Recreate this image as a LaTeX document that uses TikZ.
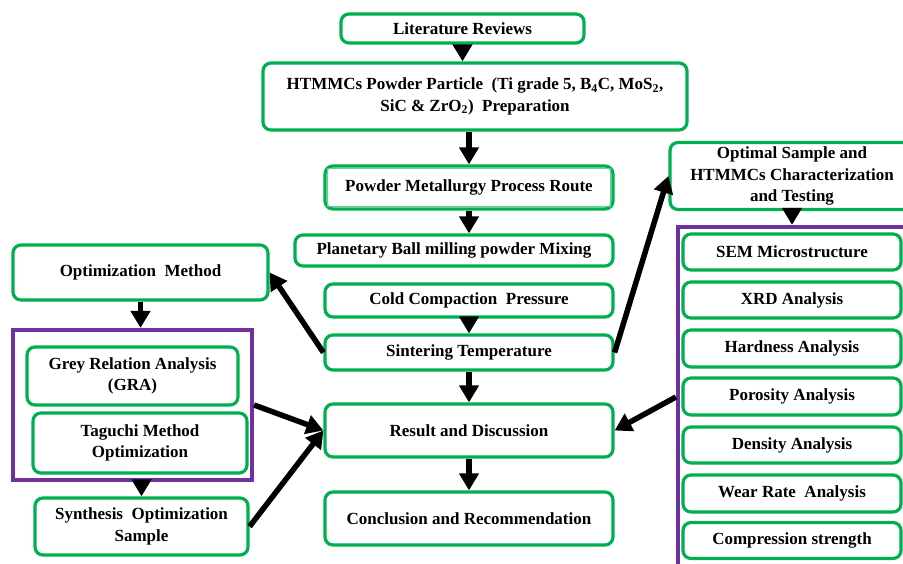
\documentclass[tikz,border=0pt]{standalone}
\usepackage{fontspec}
\setmainfont{Liberation Serif}
\usetikzlibrary{arrows.meta}
\definecolor{grn}{RGB}{0,176,80}
\definecolor{purp}{RGB}{112,48,160}
\begin{document}
\begin{tikzpicture}[x=1pt,y=-1pt,
  box/.style={draw=grn, line width=3.2pt, rounded corners=8pt, fill=white, align=center, inner sep=0pt, font=\fontsize{17}{21.5}\selectfont\bfseries},
  sz/.style n args={2}{minimum width=#1pt, minimum height=#2pt},
  pbox/.style={draw=purp, line width=4.2pt, inner sep=0pt},
  arr/.style={line width=5.5pt, -{Triangle[width=19pt,length=17pt]}}]
\useasboundingbox (0,0) rectangle (903,563);
\clip (0,0) rectangle (903,563);
\fill[white] (0,0) rectangle (903,563);

% purple group boxes
\node[pbox, sz={239}{150}] (lp) at (132.5,405) {};
\node[pbox, sz={232}{340}] (rp) at (794,397) {};

% main column
\node[box, sz={243}{29}] (lit) at (462.5,28.5) {Literature Reviews};
\node[box, sz={424}{67}] (htm) at (475,96.5) {HTMMCs Powder Particle\ \ (Ti grade 5, B\textsubscript{4}C, MoS\textsubscript{2},\\SiC \& ZrO\textsubscript{2})\ \ Preparation};
\node[box, sz={288}{43}] (pm) at (469,187.5) {Powder Metallurgy Process Route};
\draw[grn!60, line width=1pt] ([shift={(4pt,-4pt)}]pm.north west) rectangle ([shift={(-4pt,4pt)}]pm.south east);
\node[box, sz={318}{31}] (plan) at (454,250.5) {Planetary Ball milling powder Mixing};
\node[box, sz={288}{33}] (cold) at (469,300.5) {Cold Compaction\ \ Pressure};
\node[box, sz={288}{35}] (sint) at (469,352.5) {Sintering Temperature};
\node[box, sz={288}{53}] (res) at (469,430.5) {Result and Discussion};
\node[box, sz={288}{53}] (conc) at (469,518.5) {Conclusion and Recommendation};

% left column
\node[box, sz={255}{55}] (optm) at (140.5,272.5) {Optimization\ \ Method};
\node[box, sz={211}{58}] (gra) at (132.5,376) {Grey Relation Analysis\\(GRA)};
\node[box, sz={214}{60}] (tag) at (140,443) {Taguchi Method\\Optimization};
\node[box, sz={213}{57}] (syn) at (141.5,526.5) {Synthesis\ \ Optimization\\Sample};

% right column
\node[box, sz={244}{67}] (opt) at (792,176) {Optimal Sample and\\HTMMCs Characterization\\and Testing};
\node[box, sz={218}{36}] (sem) at (792,252) {SEM Microstructure};
\node[box, sz={218}{36}] (xrd) at (792,300) {XRD Analysis};
\node[box, sz={218}{37}] (hard) at (792,348.5) {Hardness Analysis};
\node[box, sz={218}{37}] (por) at (792,396.5) {Porosity Analysis};
\node[box, sz={218}{36}] (den) at (792,445) {Density Analysis};
\node[box, sz={218}{37}] (wear) at (792,493.5) {Wear Rate\ \ Analysis};
\node[box, sz={218}{36}] (comp) at (792,540.5) {Compression strength};

% arrows
\draw[arr] (lit.south) -- (lit.south |- htm.north);
\draw[arr] (htm.south -| pm.north) -- (pm.north);
\draw[arr] (pm.south) -- (pm.south |- plan.north);
\draw[arr] (cold.south) -- (sint.north);
\draw[arr] (sint.south) -- (res.north);
\draw[arr] (res.south) -- (conc.north);
\draw[arr] (sint.west) -- (optm.east);
\draw[arr] (sint.east) -- (opt.west);
\draw[arr] (optm.south) -- (optm.south |- lp.north);
\draw[arr] (lp.south -| syn.north) -- (syn.north);
\draw[arr] (lp.east) -- (res.west);
\draw[arr] (syn.east) -- (res.west);
\draw[arr] (rp.west) -- (res.east);
\draw[arr] (opt.south) -- (opt.south |- rp.north);
\end{tikzpicture}
\end{document}
